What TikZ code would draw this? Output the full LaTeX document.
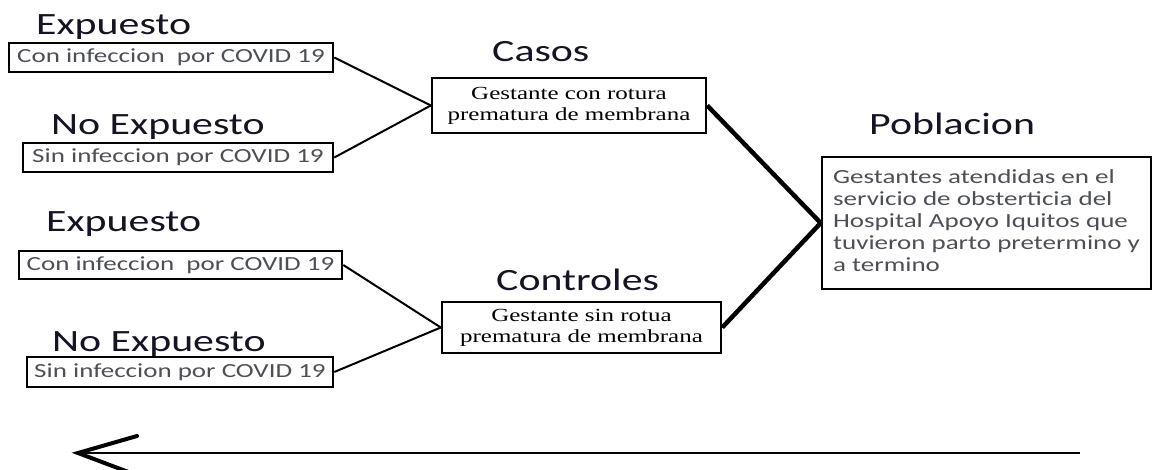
\documentclass[tikz,border=0pt]{standalone}
\usepackage{fontspec}
\setmainfont{Carlito}
\newfontfamily\serifbox{Liberation Serif}
\usepackage{graphicx}
\definecolor{labelc}{rgb}{0.08,0.08,0.14}
\definecolor{boxtext}{rgb}{0.30,0.31,0.34}
\begin{document}
\begin{tikzpicture}[x=1pt,y=-1pt,
  lbl/.style={anchor=base west,inner sep=0pt,text=labelc,font=\fontsize{31}{31}\selectfont},
  smallbox/.style={draw,line width=2.6pt,inner sep=0pt,text=boxtext,font=\fontsize{20}{22}\selectfont},
  midbox/.style={draw,line width=2.4pt,inner sep=0pt,text=black,font=\serifbox\fontsize{18.5}{24}\selectfont},
  popbox/.style={draw,line width=2.6pt,inner sep=0pt,text=boxtext,font=\fontsize{20}{23}\selectfont},
  thin/.style={line width=2pt},
  thick/.style={line width=4.5pt}]
\useasboundingbox (0,0) rectangle (1155,470);

% labels
\node[lbl] (l1) at (36,35) {\scalebox{1.35}[1]{Expuesto}};
\node[lbl] (l2) at (51,135) {\scalebox{1.35}[1]{No Expuesto}};
\node[lbl] (l3) at (46,232) {\scalebox{1.35}[1]{Expuesto}};
\node[lbl] (l4) at (52,351) {\scalebox{1.35}[1]{No Expuesto}};
\node[lbl] (l5) at (492,62) {\scalebox{1.35}[1]{Casos}};
\node[lbl] (l6) at (496,290) {\scalebox{1.35}[1]{Controles}};
\node[lbl] (l7) at (869,135) {\scalebox{1.35}[1]{Poblacion}};

% small boxes
\node[smallbox,minimum width=324pt,minimum height=29pt] (a1) at (171,57.5) {\scalebox{1.35}[1]{Con infeccion\ \ por COVID 19}};
\node[smallbox,minimum width=310pt,minimum height=29pt] (b1) at (178,157.5) {\scalebox{1.35}[1]{Sin infeccion por COVID 19}};
\node[smallbox,minimum width=323pt,minimum height=28pt] (a2) at (180.5,265) {\scalebox{1.35}[1]{Con infeccion\ \ por COVID 19}};
\node[smallbox,minimum width=306pt,minimum height=30pt] (b2) at (180,372) {\scalebox{1.35}[1]{Sin infeccion por COVID 19}};

% middle boxes
\node[midbox,minimum width=274pt,minimum height=55pt] (casos) at (569,105.5)
  {\scalebox{1.35}[1]{\begin{tabular}{@{}c@{}}Gestante con rotura\\[-3pt] prematura de membrana\end{tabular}}};
\node[midbox,minimum width=279pt,minimum height=51pt] (ctrl) at (581.5,327.5)
  {\scalebox{1.35}[1]{\begin{tabular}{@{}c@{}}Gestante sin rotua\\[-3pt] prematura de membrana\end{tabular}}};

% population box
\node[popbox,minimum width=329pt,minimum height=132pt] (pob) at (986.5,223)
  {\scalebox{1.35}[1]{\begin{tabular}{@{}l@{}}Gestantes atendidas en el\\[-1pt] servicio de obsterticia del\\[-1pt] Hospital Apoyo Iquitos que\\[-1pt] tuvieron parto pretermino y\\[-1pt] a termino\end{tabular}}};

% connectors
\draw[thin] (a1.east) -- (casos.west);
\draw[thin] (b1.east) -- (casos.west);
\draw[thin] (a2.east) -- (ctrl.west);
\draw[thin] (b2.east) -- (ctrl.west);
\draw[thick] (casos.east) -- (pob.west);
\draw[thick] (ctrl.east) -- (pob.west);

% time arrow
\coordinate (tail) at (1080,453);
\coordinate (tip) at (78,453);
\coordinate (barbA) at (137,436);
\coordinate (barbB) at (131,473);
\draw[line width=2.5pt] (tail) -- (tip);
\draw[line width=4pt,line cap=round] (barbA) -- (tip) -- (barbB);
\end{tikzpicture}
\end{document}
